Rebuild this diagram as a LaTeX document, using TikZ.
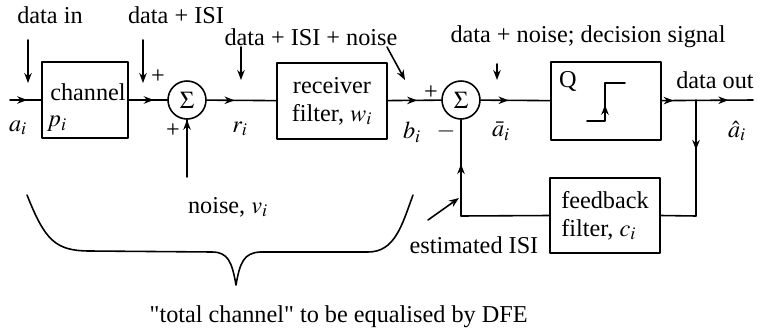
\documentclass[tikz,border=0pt]{standalone}
\usepackage{mathptmx}
\usepackage{fontspec}
\setmainfont{Liberation Serif}
\newfontfamily\qfont{Liberation Serif}
\usetikzlibrary{arrows.meta,decorations.markings}
\tikzset{
  blk/.style={draw,line width=0.9pt,minimum height=1.52cm,inner sep=2pt},
  sm/.style={circle,draw,line width=0.9pt,minimum size=0.76cm,inner sep=0pt},
  lbl/.style={inner sep=0.5pt},
  mid/.style={postaction={decorate,decoration={markings,
      mark=at position #1 with {\arrow{>}}}}},
  >={Stealth[length=2mm,width=1.5mm]},
  every picture/.style={line cap=round,line join=round}}

\begin{document}
\begin{tikzpicture}[x=0.02cm,y=-0.02cm,line width=0.9pt,
    font=\fontsize{13.8}{16}\selectfont]
  \useasboundingbox (0,0) rectangle (762,335);
  % blocks
  \node[blk,minimum width=1.72cm] (chan) at (85,100) {};
  \node[sm] (s1) at (187,100) {$\Sigma$};
  \node[blk,minimum width=2.2cm,align=center] (rx) at (332,101) {receiver\\filter, $w_i$};
  \node[sm] (s2) at (461,100) {$\Sigma$};
  \node[blk,minimum width=2.2cm,minimum height=1.56cm] (quant) at (606,101) {};
  \node[blk,minimum width=2.2cm,minimum height=1.5cm,align=left] (fb) at (605,215.5) {feedback\\filter, $c_i$};
  % inner labels
  \node (chl) at (88,92) {channel};
  \node (pl) at (57,124) {$p_i$};
  \node (ql) at (568,81) {Q};
  \draw[mid=0.45] (587,121) -- (605,121) -- (605,83) -- (625,83);
  % signal path
  \coordinate (in) at (10,100);
  \coordinate (out) at (753,100);
  \coordinate (br) at (696,100);
  \coordinate (brd) at (696,216);
  \coordinate (fbl) at (461,216);
  \coordinate (nz) at (187,177);
  \draw[mid=0.55] (in) -- (chan);
  \draw[mid=0.65] (chan) -- (s1);
  \draw[mid=0.4] (s1) -- (rx);
  \draw[mid=0.55] (rx) -- (s2);
  \draw[mid=0.4] (s2) -- (quant);
  \draw[mid=0.13,mid=0.73] (quant) -- (out);
  \draw[mid=0.33] (br) -- (brd) -- (fb.east);
  \draw[mid=0.76] (fb.west) -- (fbl) -- (s2.south);
  \draw[mid=1] (nz) -- (s1.south);
  % signal names
  \node[lbl] (ai) at (18,128) {$a_i$};
  \node[lbl] (ri) at (240,129) {$r_i$};
  \node[lbl] (bi) at (412,132) {$b_i$};
  \node[lbl] (abar) at (501,131) {$\bar{a}_i$};
  \node[lbl] (ahat) at (737,131) {$\hat{a}_i$};
  \node[lbl] (p1) at (158,77) {+};
  \node[lbl] (p2) at (173,131) {+};
  \node[lbl] (p3) at (431,93) {+};
  \node[lbl] (m1) at (446,131) {$-$};
  % annotations
  \node (din) at (50,15) {data in};
  \node (disi) at (176,15) {data + ISI};
  \node (dnoise) at (311,37) {data + ISI + noise};
  \node (ddec) at (588,37) {data + noise; decision signal};
  \node (dout) at (715,80) {data out};
  \node (nv) at (228,207) {noise, $v_i$};
  \node (eisi) at (474,245) {estimated ISI};
  \coordinate (a1) at (28,40);  \coordinate (a1e) at (28,83);
  \coordinate (a2) at (143,40); \coordinate (a2e) at (143,83);
  \coordinate (a3) at (241,47); \coordinate (a3e) at (241,80);
  \coordinate (a4) at (387,47); \coordinate (a4e) at (405,80);
  \coordinate (a5) at (497,64); \coordinate (a5e) at (497,80);
  \coordinate (a6) at (428,220); \coordinate (a6e) at (459,198);
  \draw[->] (a1) -- (a1e);
  \draw[->] (a2) -- (a2e);
  \draw[->] (a3) -- (a3e);
  \draw[->] (a4) -- (a4e);
  \draw[->] (a5) -- (a5e);
  \draw[->] (a6) -- (a6e);
  % brace
  \draw (27,195) .. controls (45,240) and (55,251) .. (90,251) -- (212,252)
    .. controls (228,252) and (232,262) .. (236,285)
    .. controls (240,262) and (244,253) .. (260,252) -- (368,252)
    .. controls (395,252) and (402,225) .. (413,195);
  \node[anchor=west,font=\qfont\fontsize{13.8}{16}\selectfont] (tot) at (143,317) {"total channel" to be equalised by DFE};
\end{tikzpicture}
\end{document}
